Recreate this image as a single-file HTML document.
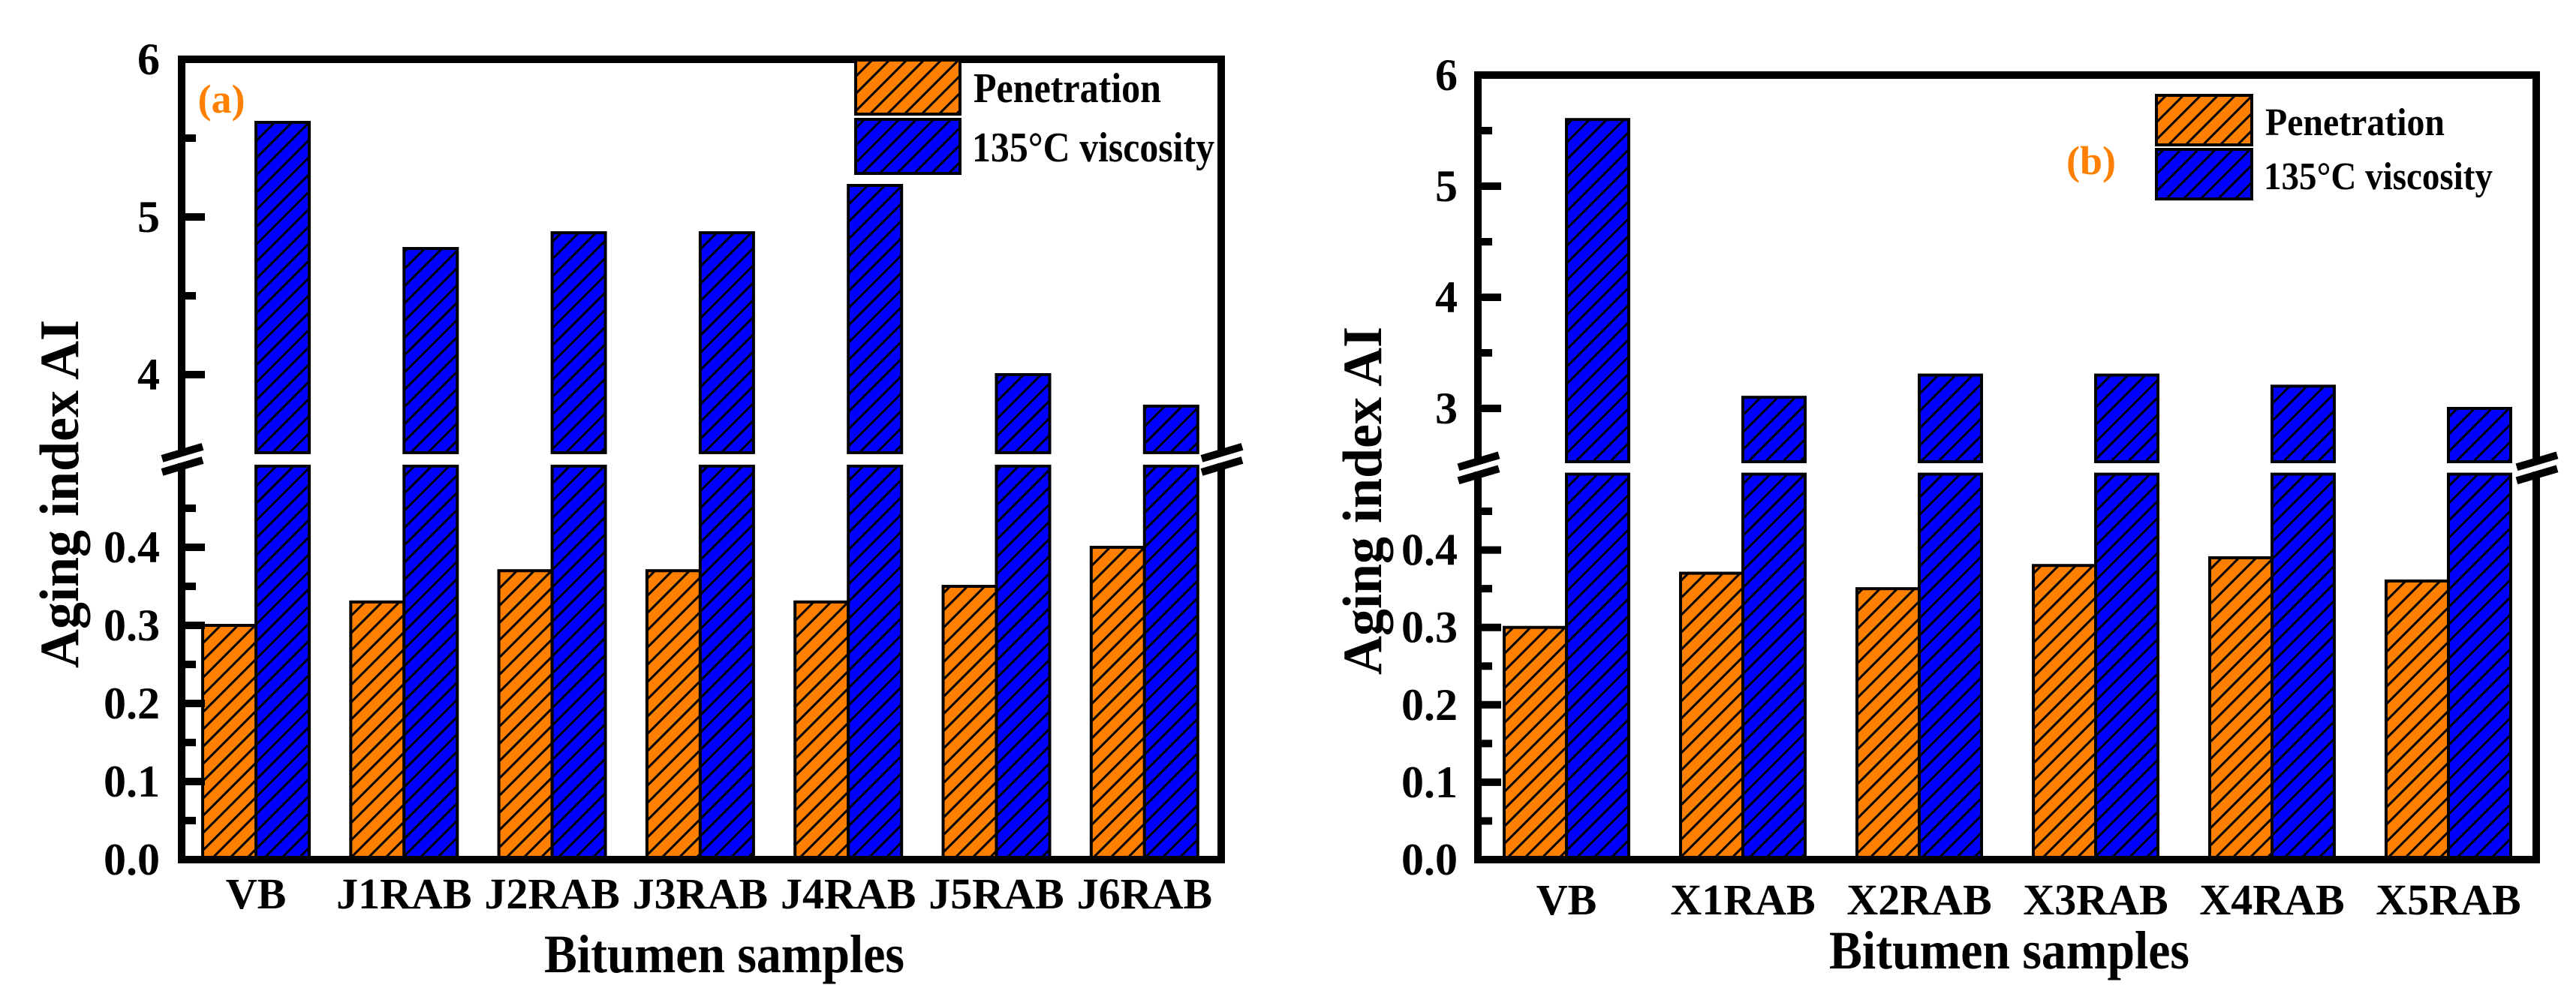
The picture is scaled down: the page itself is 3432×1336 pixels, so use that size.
<!DOCTYPE html>
<html><head><meta charset="utf-8">
<style>
html,body{margin:0;padding:0;background:#fff;}
svg{display:block;}
text{font-family:"Liberation Serif","Times New Roman",serif;font-weight:bold;}
</style></head>
<body>
<svg id="fig" width="3432" height="1336" viewBox="0 0 3432 1336" xmlns="http://www.w3.org/2000/svg">
<defs>
<pattern id="hatchO" patternUnits="userSpaceOnUse" width="23" height="23">
<rect width="23" height="23" fill="#FF8000"/>
<path d="M-3,3 L3,-3 M0,23 L23,0 M20,26 L26,20" stroke="#000" stroke-width="3"/>
</pattern>
<pattern id="hatchB" patternUnits="userSpaceOnUse" width="23" height="23">
<rect width="23" height="23" fill="#0000FF"/>
<path d="M-3,3 L3,-3 M0,23 L23,0 M20,26 L26,20" stroke="#000" stroke-width="3"/>
</pattern>
</defs>
</svg>
<script>
// ---- Chart (a) data ----
const catsA = ["VB","J1RAB","J2RAB","J3RAB","J4RAB","J5RAB","J6RAB"];
const penA = [0.30,0.33,0.37,0.37,0.33,0.35,0.40];
const viscA = [5.6,4.8,4.9,4.9,5.2,4.0,3.8];
const upperTicksA = [4,5,6];
const upperMinorA = [4.5,5.5];
// ---- Chart (b) data ----
const catsB = ["VB","X1RAB","X2RAB","X3RAB","X4RAB","X5RAB"];
const penB = [0.30,0.37,0.35,0.38,0.39,0.36];
const viscB = [5.6,3.1,3.3,3.3,3.2,3.0];
const upperTicksB = [3,4,5,6];
const upperMinorB = [3.5,4.5,5.5];
// shared lower axis
const lowerTicks = [0.0,0.1,0.2,0.3,0.4];
const lowerMinor = [0.05,0.15,0.25,0.35,0.45];

const NS = "http://www.w3.org/2000/svg";
const svg = document.getElementById('fig');
function mk(tag, attrs, parent, txt){
  const e = document.createElementNS(NS, tag);
  for (const k in attrs) e.setAttribute(k, attrs[k]);
  if (txt !== undefined) e.textContent = txt;
  (parent||svg).appendChild(e);
  return e;
}

function drawChart(cfg, cats, pen, visc, uTicks, uMinor){
  const g = mk('g', {});
  
  
  const yU = v => cfg.top + (cfg.uMax - v) * cfg.uScale;
  const yL = v => cfg.base - v * cfg.lScale;
  const cx = i => cfg.x0 + i * cfg.step;
  const bw = cfg.bw;
  const gapTop = yU(cfg.breakHi), gapBot = yL(cfg.breakLo);

  cats.forEach((c, i) => {
    const pb = mk('rect', {x: cx(i)-bw, y: yL(pen[i]), width: bw, height: cfg.base - yL(pen[i]), fill: 'url(#hatchO)', stroke: '#000', 'stroke-width': 4}, g);
    
    
    const vu = mk('rect', {x: cx(i), y: yU(visc[i]), width: bw, height: gapTop - yU(visc[i]), fill: 'url(#hatchB)', stroke: '#000', 'stroke-width': 4}, g);
    
    
    const vl = mk('rect', {x: cx(i), y: gapBot, width: bw, height: cfg.base - gapBot, fill: 'url(#hatchB)', stroke: '#000', 'stroke-width': 4}, g);
    
    
    const t = mk('text', {x: cx(i), y: cfg.catY, 'font-size': 58, 'text-anchor': 'middle'}, g, c);
    
    
  });
  mk('rect', {x: cfg.left+5, y: gapTop+2, width: cfg.right-cfg.left-10, height: gapBot-gapTop-4, fill: '#fff'}, g);

  const fr = mk('path', {d: `M${cfg.left},${cfg.top} H${cfg.right} V${cfg.base} H${cfg.left} Z`, fill: 'none', stroke: '#000', 'stroke-width': 10}, g);
  
  

  uTicks.forEach(v => {
    mk('line', {x1: cfg.left, x2: cfg.left+31, y1: yU(v), y2: yU(v), stroke: '#000', 'stroke-width': 10}, g);
    const t = mk('text', {x: cfg.lblX, y: yU(v)+20, 'font-size': 60, 'text-anchor': 'end'}, g, String(v));
    
    
  });
  uMinor.forEach(v => mk('line', {x1: cfg.left, x2: cfg.left+19, y1: yU(v), y2: yU(v), stroke: '#000', 'stroke-width': 10}, g));
  lowerTicks.forEach(v => {
    if (v > 0) mk('line', {x1: cfg.left, x2: cfg.left+31, y1: yL(v), y2: yL(v), stroke: '#000', 'stroke-width': 10}, g);
    const t = mk('text', {x: cfg.lblX, y: yL(v)+20, 'font-size': 60, 'text-anchor': 'end'}, g, v.toFixed(1));
    
    
  });
  lowerMinor.forEach(v => mk('line', {x1: cfg.left, x2: cfg.left+19, y1: yL(v), y2: yL(v), stroke: '#000', 'stroke-width': 10}, g));

  const mid = (gapTop + gapBot) / 2;
  [cfg.left, cfg.right].forEach(ax => {
    mk('rect', {x: ax-8, y: mid-5, width: 16, height: 10, fill: '#fff'}, g);
    [mid-9, mid+9].forEach(yy => {
      const m = mk('line', {x1: ax-26, y1: yy+8, x2: ax+28, y2: yy-8, stroke: '#000', 'stroke-width': 10}, g);
      
      
    });
  });

  const yt = mk('text', {x: 0, y: 0, 'font-size': 74, 'text-anchor': 'middle', textLength: 464, lengthAdjust: 'spacingAndGlyphs', transform: `translate(${cfg.yTitleX},${cfg.yTitleY}) rotate(-90)`}, g, 'Aging index AI');
  
  
  const xt = mk('text', {x: cfg.xTitleX, y: cfg.xTitleY, 'font-size': 72, 'text-anchor': 'middle', textLength: 480, lengthAdjust: 'spacingAndGlyphs'}, g, 'Bitumen samples');
  
  
  const pl = mk('text', {x: cfg.panelX, y: cfg.panelY, 'font-size': 54, fill: '#FF8000', 'text-anchor': 'middle'}, g, cfg.panel);
  
  

  const lg = mk('g', {}, g);
  
  
  const e1 = mk('rect', {x: cfg.legX, y: cfg.legY1, width: cfg.legW, height: cfg.legH, fill: 'url(#hatchO)', stroke: '#000', 'stroke-width': 4}, lg);
  
  
  const e2 = mk('rect', {x: cfg.legX, y: cfg.legY2, width: cfg.legW, height: cfg.legH, fill: 'url(#hatchB)', stroke: '#000', 'stroke-width': 4}, lg);
  
  
  const t1 = mk('text', {x: cfg.legX + cfg.legW + 18, y: cfg.legY1 + cfg.legH/2 + 20, 'font-size': cfg.legFont, textLength: cfg.penLen, lengthAdjust: 'spacingAndGlyphs'}, lg, 'Penetration');
  
  
  const t2 = mk('text', {x: cfg.legX + cfg.legW + 16, y: cfg.legY2 + cfg.legH/2 + 20, 'font-size': cfg.legFont, textLength: cfg.visLen, lengthAdjust: 'spacingAndGlyphs'}, lg, '135°C viscosity');
  
  
}

drawChart({name: 'chart-a', left: 242, right: 1627, top: 79, base: 1145,
  uMax: 6, uScale: 210, lScale: 1040, breakHi: 3.505, breakLo: 0.504,
  x0: 341, step: 197.3, bw: 71, catY: 1210, lblX: 213,
  yTitleX: 104, yTitleY: 658, xTitleX: 965, xTitleY: 1295,
  panel: '(a)', panelX: 295, panelY: 150,
  legX: 1140, legY1: 80, legY2: 159, legW: 139, legH: 72, legFont: 56, penLen: 250, visLen: 323},
  catsA, penA, viscA, upperTicksA, upperMinorA);

drawChart({name: 'chart-b', left: 1969, right: 3379, top: 100, base: 1145,
  uMax: 6, uScale: 148, lScale: 1031, breakHi: 2.52, breakLo: 0.498,
  x0: 2087, step: 235, bw: 83, catY: 1218, lblX: 1942,
  yTitleX: 1840, yTitleY: 667, xTitleX: 2677, xTitleY: 1290,
  panel: '(b)', panelX: 2786, panelY: 232,
  legX: 2873, legY1: 127, legY2: 199, legW: 127, legH: 66, legFont: 52, penLen: 239, visLen: 305},
  catsB, penB, viscB, upperTicksB, upperMinorB);
</script>
</body></html>
